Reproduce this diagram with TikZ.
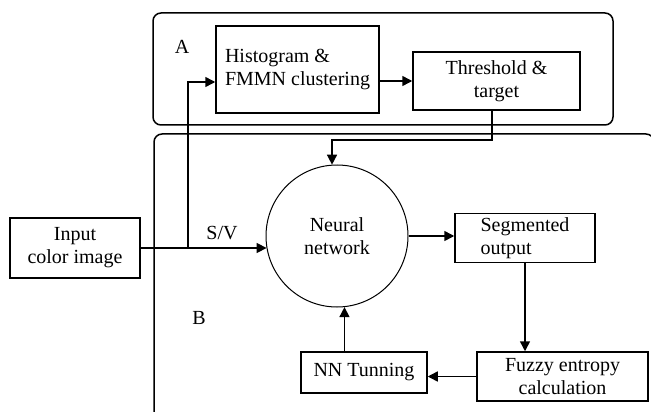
\documentclass[tikz,border=0pt]{standalone}
\usepackage{fontspec}
\setmainfont{Liberation Serif}
\usetikzlibrary{arrows.meta}
\tikzset{
	blockbox/.style={draw, line width=0.75pt, rectangle, inner sep=2pt},
	flowarrow/.style={line width=0.75pt, -{Triangle[length=5pt,width=5pt]}},
	groupframe/.style={line width=0.75pt, rounded corners=4pt}
}

\begin{document}
\begin{tikzpicture}[x=0.5pt, y=-0.5pt, font=\fontsize{10}{11.5}\selectfont]
			%%%%% START %%%%%
			\useasboundingbox (0, 0) rectangle (651, 411);
			
			% group frames
			\draw[groupframe] (153, 13) rectangle (613, 125);
			\begin{scope}
				\clip (0, 0) rectangle (651, 411);
				\draw[groupframe] (154, 134) rectangle (654, 440);
			\end{scope}
			\node at (182, 47) {A};
			\node at (199, 318) {B};
			
			% blocks
			\node[blockbox, minimum width=81.5pt, minimum height=43.5pt, align=left] (hist) at (297.5, 69.5) {Histogram \&\\FMMN clustering};
			\node[blockbox, minimum width=83.5pt, minimum height=29pt, align=center] (thr) at (496.5, 81) {Threshold \&\\target};
			\node[blockbox, minimum width=65pt, minimum height=30pt, align=center] (input) at (75, 248) {Input\\color image};
			\node[draw, circle, line width=0.5pt, minimum size=71pt, align=center] (nn) at (337, 236) {Neural\\network};
			\node[blockbox, minimum width=70pt, minimum height=24pt, align=left] (seg) at (525, 238) {Segmented\\output};
			\node[blockbox, minimum width=85.5pt, minimum height=24.5pt, align=center] (fuzzy) at (562.5, 376.5) {Fuzzy entropy\\calculation};
			\node[blockbox, minimum width=63pt, minimum height=20.5pt] (tun) at (364, 372.5) {NN Tunning};
			
			\coordinate (split) at (188, 248);
			\coordinate (histin) at (188, 82);
			\coordinate (turn) at (492, 140);
			
			% connectors
			\draw[flowarrow] (input.east) -- (input.east -| nn.190);
			\node at (222, 233) {S/V};
			\draw[flowarrow] (split) |- (hist.west |- histin);
			\draw[flowarrow] (hist.east |- thr.west) -- (thr.west);
			\draw[flowarrow] (turn |- thr.south) -- (turn) -- (nn.94 |- turn) -- (nn.94);
			\draw[flowarrow] (nn.east) -- (nn.east -| seg.west);
			\draw[flowarrow] (seg.south) -- (seg.south |- fuzzy.north);
			\draw[flowarrow] (fuzzy.west) -- (fuzzy.west -| tun.east);
			\draw[flowarrow] (tun.north -| nn.-84) -- (nn.-84);
			
			%%%%% END %%%%%
		\end{tikzpicture}
\end{document}
